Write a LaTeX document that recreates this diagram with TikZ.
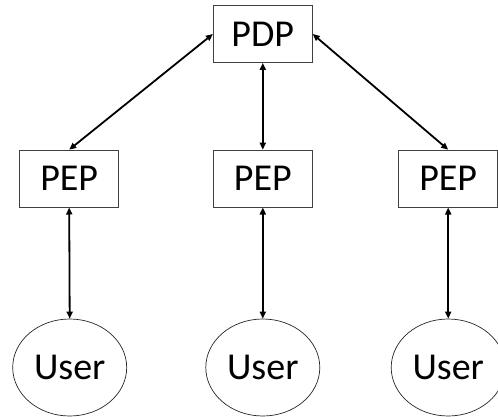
\documentclass[tikz,border=0pt]{standalone}
\usepackage{fontspec}
\setmainfont{Carlito}
\usetikzlibrary{arrows.meta,shapes.geometric}
\begin{document}
\begin{tikzpicture}[x=1pt,y=-1pt,
  boxnode/.style={draw=black!75,line width=0.8pt,rectangle,minimum width=99pt,minimum height=57pt,inner sep=0pt,font=\fontsize{38}{44}\selectfont},
  usernode/.style={draw=black!85,line width=0.7pt,ellipse,minimum width=114pt,minimum height=97pt,inner sep=0pt,font=\fontsize{38}{44}\selectfont},
  link/.style={line width=1.8pt,{Triangle[length=7pt,width=6pt]}-{Triangle[length=7pt,width=6pt]}}]
\useasboundingbox (0,0) rectangle (498,417);
\node[boxnode] (pdp) at (262.8,34) {PDP};
\node[boxnode] (pep1) at (69.2,178.6) {PEP};
\node[boxnode] (pep2) at (262.8,178.6) {PEP};
\node[boxnode] (pep3) at (448.2,178.6) {PEP};
\node[usernode] (u1) at (69.7,367.5) {User};
\node[usernode] (u2) at (262.8,367.5) {User};
\node[usernode] (u3) at (448.2,367.5) {User};
\draw[link] (pdp.west) -- (pep1.north);
\draw[link] (pdp.south) -- (pep2.north);
\draw[link] (pdp.east) -- (pep3.north);
\draw[link] (pep1.south) -- (u1.north);
\draw[link] (pep2.south) -- (u2.north);
\draw[link] (pep3.south) -- (u3.north);
\end{tikzpicture}
\end{document}
